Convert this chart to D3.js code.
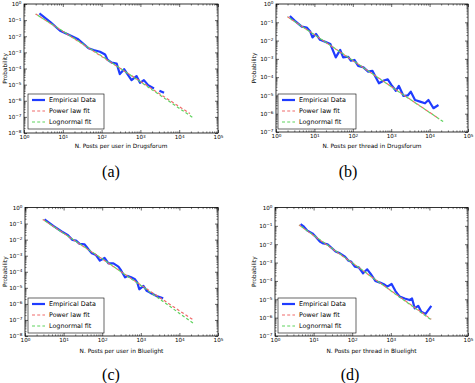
<!DOCTYPE html>
<html><head><meta charset="utf-8">
<script src="https://cdn.jsdelivr.net/npm/d3@7"></script>
<style>body{margin:0;background:#fff;} svg{display:block;}</style>
</head><body>
<svg id="c" width="475" height="383"></svg>
<script>
// ---------- DATA ----------
const xTickExps = [0,1,2,3,4,5];
const yTickExpsA = [-8,-7,-6,-5,-4,-3,-2,-1,0];
const yTickExpsB = [-7,-6,-5,-4,-3,-2,-1,0];
const legendLabels = ["Empirical Data","Power law fit","Lognormal fit"];
const xLabels = ["N. Posts per user in Drugsforum","N. Posts per thread in Drugsforum","N. Posts per user in Bluelight","N. Posts per thread in Bluelight"];
const yLabel = "Probability";
const captions = ["(a)","(b)","(c)","(d)"];

// (a) posts per user, Drugsforum
const empiricalA = [[2.5,2.6e-1],[4.7,7.9e-2],[8.5,2.2e-2],[13.8,1.3e-2],[25,6.5e-3],[46,1.8e-3],[62,1.4e-3],[91,1.1e-3],[123,7.4e-4],[141,3.6e-4],[182,2.3e-4],[245,2.0e-4],[295,4.5e-5],[380,9.1e-5],[590,1.9e-5],[794,3.4e-5],[977,1.3e-5],[1230,1.9e-5],[1585,9.3e-6],[2240,5.8e-6],[2600,null],[3090,4.2e-6],[4070,3.1e-6]];
const powerA = [[2.0,2.4e-1],[10,2.0e-2],[100,5.6e-4],[1000,1.6e-5],[19000,1.6e-7]];
const lognormA = [[2.0,2.4e-1],[10,2.1e-2],[100,6.0e-4],[1000,1.5e-5],[22400,9.1e-8]];
// (b) posts per thread, Drugsforum
const empiricalB = [[2.3,2.2e-1],[3.1,1.2e-1],[4.7,5.8e-2],[6.3,5.2e-2],[7.8,3.1e-2],[8.9,1.5e-2],[11,2.3e-2],[14,1.1e-2],[19,8.7e-3],[26,6.5e-3],[36,1.2e-3],[47,3.1e-3],[56,1.2e-3],[76,1.3e-3],[89,7.9e-4],[110,8.7e-4],[138,4.1e-4],[186,3.5e-4],[251,2.0e-4],[324,2.2e-4],[479,4.6e-5],[646,6.5e-5],[813,7.6e-5],[1020,3.7e-5],[1320,1.8e-5],[1585,3.3e-5],[2090,9.3e-6],[2690,1.0e-5],[3240,1.6e-5],[4170,5.6e-6],[5620,4.6e-6],[7590,3.7e-6],[9330,5.6e-6],[12600,2.0e-6],[17000,3.0e-6]];
const powerB = [[2.0,2.0e-1],[10,2.1e-2],[100,8.0e-4],[1000,3.1e-5],[17800,5.2e-7]];
const lognormB = [[2.0,2.0e-1],[10,2.1e-2],[100,8.3e-4],[1000,3.0e-5],[24000,3.4e-7]];
// (c) posts per user, Bluelight
const empiricalC = [[3.2,1.8e-1],[5.4,7.1e-2],[8.9,3.2e-2],[13,1.9e-2],[17,9.5e-3],[21,8.7e-3],[26,5.4e-3],[35,5.1e-3],[44,2.5e-3],[54,1.4e-3],[69,1.1e-3],[87,4.9e-4],[115,7.2e-4],[145,3.3e-4],[195,3.3e-4],[263,2.1e-4],[309,1.2e-4],[389,4.5e-5],[457,5.5e-5],[562,4.5e-5],[708,3.4e-5],[813,2.1e-5],[912,8.1e-6],[1175,1.3e-5],[1410,6.6e-6],[1740,5.0e-6],[2570,3.1e-6],[3800,2.2e-6]];
const powerC = [[2.9,1.8e-1],[10,2.5e-2],[100,6.2e-4],[1000,1.5e-5],[22900,1.0e-7]];
const lognormC = [[2.9,1.8e-1],[10,2.5e-2],[100,6.5e-4],[1000,1.4e-5],[22900,6.2e-8]];
// (d) posts per thread, Bluelight
const empiricalD = [[4.6,1.26e-1],[5.4,9.8e-2],[6.9,5.5e-2],[9.3,3.9e-2],[11.2,2.6e-2],[14.5,1.4e-2],[17.8,1.1e-2],[23,1.0e-2],[30,6.0e-3],[37,4.0e-3],[48,3.2e-3],[65,2.1e-3],[79,1.3e-3],[95,1.1e-3],[117,6.0e-4],[148,5.5e-4],[191,2.6e-4],[245,4.3e-4],[316,2.1e-4],[398,1.0e-4],[525,8.1e-5],[661,6.6e-5],[813,4.9e-5],[1050,6.8e-5],[1320,2.8e-5],[1700,1.4e-5],[2290,1.1e-5],[3090,9.1e-6],[3550,1.1e-5],[4170,3.2e-6],[5130,4.4e-6],[6170,2.1e-6],[7940,1.6e-6],[11200,4.4e-6]];
const powerD = [[4.2,1.1e-1],[10,3.0e-2],[100,9.5e-4],[1000,3.0e-5],[11200,8.1e-7]];
const lognormD = [[4.2,1.1e-1],[10,3.1e-2],[100,9.8e-4],[1000,2.9e-5],[11200,7.6e-7]];

// ---------- LAYOUT ----------
const panels = [
  {emp:empiricalA, pow:powerA, logn:lognormA, yExps:yTickExpsA, l:24, r:218, t:4, b:133, xl:xLabels[0], xlY:148, ylX:5, cap:captions[0], capX:111, capY:177, lg:{x:28,y:94,w:76,h:35}},
  {emp:empiricalB, pow:powerB, logn:lognormB, yExps:yTickExpsB, l:276, r:468, t:4, b:132, xl:xLabels[1], xlY:148, ylX:254, cap:captions[1], capX:348, capY:177, lg:{x:278,y:94,w:78,h:35}},
  {emp:empiricalC, pow:powerC, logn:lognormC, yExps:yTickExpsA, l:25, r:218, t:207.5, b:336, xl:xLabels[2], xlY:353, ylX:5, cap:captions[2], capX:111, capY:380, lg:{x:28,y:298,w:76,h:35}},
  {emp:empiricalD, pow:powerD, logn:lognormD, yExps:yTickExpsB, l:275, r:468, t:207.5, b:336, xl:xLabels[3], xlY:353, ylX:254, cap:captions[3], capX:350, capY:380, lg:{x:278,y:298,w:78,h:35}}
];

const BLUE = "#1f3cff", RED = "#f06a6a", GREEN = "#5fd35f";
const FONT = "DejaVu Sans";
const svg = d3.select("#c");

function minorVals(exps){
  const out=[];
  for(let i=0;i<exps.length-1;i++){ for(let m=2;m<=9;m++) out.push(m*Math.pow(10,exps[i])); }
  return out;
}
function supLabel(sel){
  sel.each(function(d){
    const e = Math.round(Math.log10(d));
    const t = d3.select(this); t.text(null);
    t.append("tspan").text("10");
    t.append("tspan").attr("dy","-0.45em").attr("font-size","4.2px").text(String(e).replace("-","\u2212"));
  });
}

panels.forEach(p => {
  const x = d3.scaleLog().domain([Math.pow(10,xTickExps[0]), Math.pow(10,xTickExps[xTickExps.length-1])]).range([p.l,p.r]);
  const y = d3.scaleLog().domain([Math.pow(10,p.yExps[0]), Math.pow(10,p.yExps[p.yExps.length-1])]).range([p.b,p.t]);
  const g = svg.append("g");
  const xMaj = xTickExps.map(e=>Math.pow(10,e)), yMaj = p.yExps.map(e=>Math.pow(10,e));
  const xMin = minorVals(xTickExps), yMin = minorVals(p.yExps);

  const mk = (axis, tr, maj, mins, labels) => {
    const a = g.append("g").attr("transform",tr)
      .call(axis.tickValues(maj).tickSize(-3).tickPadding(labels?2.5:0).tickFormat(labels?(d=>d):""));
    a.select(".domain").remove();
    a.selectAll("line").attr("stroke","#000").attr("stroke-width",0.6);
    if(labels){ a.selectAll("text").attr("font-family",FONT).attr("font-size","5.6px").attr("fill","#000").call(supLabel); }
    const b = g.append("g").attr("transform",tr).call(axis.tickValues(mins).tickSize(-1.6).tickFormat(""));
    b.select(".domain").remove();
    b.selectAll("line").attr("stroke","#000").attr("stroke-width",0.5);
    return a;
  };
  mk(d3.axisBottom(x), `translate(0,${p.b})`, xMaj, xMin, true);
  mk(d3.axisTop(x), `translate(0,${p.t})`, xMaj, xMin, false);
  mk(d3.axisLeft(y), `translate(${p.l},0)`, yMaj, yMin, true);
  mk(d3.axisRight(y), `translate(${p.r},0)`, yMaj, yMin, false);

  g.append("rect").attr("x",p.l).attr("y",p.t).attr("width",p.r-p.l).attr("height",p.b-p.t)
    .attr("fill","none").attr("stroke","#000").attr("stroke-width",0.8);

  const line = d3.line().defined(d=>d[1]!==null).x(d=>x(d[0])).y(d=>y(d[1]));
  const clip = "clip"+p.cap.replace(/[()]/g,"");
  g.append("clipPath").attr("id",clip).append("rect").attr("x",p.l).attr("y",p.t).attr("width",p.r-p.l).attr("height",p.b-p.t);
  const plot = g.append("g").attr("clip-path",`url(#${clip})`);
  plot.append("path").datum(p.emp).attr("d",line).attr("fill","none").attr("stroke",BLUE).attr("stroke-width",2.2).attr("stroke-linejoin","round");
  plot.append("path").datum(p.pow).attr("d",line).attr("fill","none").attr("stroke",RED).attr("stroke-width",1.2).attr("stroke-dasharray","3,2.2");
  plot.append("path").datum(p.logn).attr("d",line).attr("fill","none").attr("stroke",GREEN).attr("stroke-width",1.2).attr("stroke-dasharray","3,2.2").attr("stroke-dashoffset",2.6);

  // axis labels
  g.append("text").attr("x",(p.l+p.r)/2).attr("y",p.xlY).attr("text-anchor","middle")
    .attr("font-family",FONT).attr("font-size","5.8px").text(p.xl);
  g.append("text").attr("transform",`translate(${p.ylX},${(p.t+p.b)/2}) rotate(-90)`).attr("text-anchor","middle")
    .attr("dy","0.35em").attr("font-family",FONT).attr("font-size","5.8px").text(yLabel);

  // legend
  const L = p.lg;
  const lg = g.append("g");
  lg.append("rect").attr("x",L.x).attr("y",L.y).attr("width",L.w).attr("height",L.h).attr("fill","#fff").attr("stroke","#000").attr("stroke-width",0.6);
  const styles = [[BLUE,2.2,null],[RED,1.2,"3,2.2"],[GREEN,1.2,"3,2.2"]];
  legendLabels.forEach((txt,i)=>{
    const yy = L.y + 6 + i*11;
    lg.append("line").attr("x1",L.x+4).attr("x2",L.x+17).attr("y1",yy).attr("y2",yy)
      .attr("stroke",styles[i][0]).attr("stroke-width",styles[i][1]).attr("stroke-dasharray",styles[i][2]);
    lg.append("text").attr("x",L.x+21).attr("y",yy).attr("dy","0.35em").attr("font-family",FONT).attr("font-size","6.4px").text(txt);
  });

  // caption
  svg.append("text").attr("x",p.capX).attr("y",p.capY).attr("text-anchor","middle")
    .attr("font-family","Liberation Serif").attr("font-size","16px").text(p.cap);
});
</script>
</body></html>
